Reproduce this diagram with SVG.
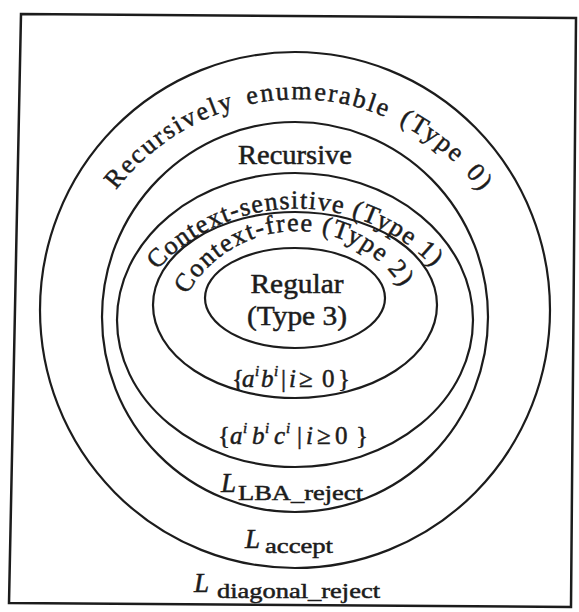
<svg xmlns="http://www.w3.org/2000/svg" width="579" height="612" viewBox="0 0 579 612">
<style>
.ring{fill:none;stroke:#1c1c1c;stroke-width:2.2}
text{stroke:#1c1c1c;stroke-width:0.5;fill:#1c1c1c}
.lbl{font-family:"Liberation Serif","Times New Roman",serif;font-size:27px}
.arc{font-family:"Liberation Serif","Times New Roman",serif;font-size:26px}
.math{font-family:"Liberation Serif","Times New Roman",serif;font-size:25px}
.it{font-style:italic}
.sup{font-size:15px}
.sub{font-size:22px}
</style>
<defs>
<path id="arcRE" d="M 116,190 A 235 248 0 0 1 484,196"/>
<path id="arcCS" d="M 157,270 A 188.5 188.5 0 0 1 440,275"/>
<path id="arcCF" d="M 187,295 A 126 126 0 0 1 410,302"/>
</defs>
<rect width="579" height="612" fill="#ffffff"/>
<polygon id="frame" points="21,14 576,18 571,607 9,603" fill="none" stroke="#1c1c1c" stroke-width="2.5"/>
<g id="connectors"/>
<g id="re">
<ellipse class="ring" cx="295" cy="310" rx="255" ry="258"/>
<text class="arc" letter-spacing="2.1" word-spacing="4"><textPath href="#arcRE">Recursively enumerable (Type 0)</textPath></text>
</g>
<g id="recursive">
<ellipse class="ring" cx="295" cy="317" rx="193" ry="195"/>
<text class="lbl" x="295" y="164" text-anchor="middle" textLength="114" lengthAdjust="spacingAndGlyphs">Recursive</text>
</g>
<g id="cs">
<ellipse class="ring" cx="295" cy="320" rx="178" ry="147"/>
<text class="arc" letter-spacing="1.3"><textPath href="#arcCS">Context-sensitive (Type 1)</textPath></text>
</g>
<g id="cf">
<ellipse class="ring" cx="295" cy="305" rx="142" ry="93"/>
<text class="arc" letter-spacing="1.5"><textPath href="#arcCF">Context-free (Type 2)</textPath></text>
</g>
<g id="regular">
<ellipse class="ring" cx="295" cy="298" rx="90" ry="50"/>
<text class="lbl" x="297" y="293" text-anchor="middle" textLength="93" lengthAdjust="spacingAndGlyphs">Regular</text>
<text class="lbl" x="297" y="325" text-anchor="middle" textLength="100" lengthAdjust="spacingAndGlyphs">(Type 3)</text>
</g>
<g id="anbn">
<text class="math" y="387"><tspan x="232">{</tspan><tspan class="it" x="242">a</tspan><tspan class="sup it" x="255" y="376">i</tspan><tspan class="it" x="261" y="387">b</tspan><tspan class="sup it" x="274" y="376">i</tspan><tspan x="281" y="387">|</tspan><tspan class="it" x="289">i</tspan><tspan x="299">≥</tspan><tspan x="322">0</tspan><tspan x="338">}</tspan></text>
</g>
<g id="anbncn">
<text class="math" y="444"><tspan x="218">{</tspan><tspan class="it" x="230">a</tspan><tspan class="sup it" x="243" y="433">i</tspan><tspan class="it" x="252" y="444">b</tspan><tspan class="sup it" x="265" y="433">i</tspan><tspan class="it" x="274" y="444">c</tspan><tspan class="sup it" x="286" y="433">i</tspan><tspan x="297" y="444">|</tspan><tspan class="it" x="306">i</tspan><tspan x="317">≥</tspan><tspan x="335">0</tspan><tspan x="356">}</tspan></text>
</g>
<g id="lba">
<text class="lbl" y="492"><tspan class="it" x="221">L</tspan><tspan class="sub" x="238" y="500" textLength="125" lengthAdjust="spacingAndGlyphs">LBA_reject</tspan></text>
</g>
<g id="accept">
<text class="lbl" y="548"><tspan class="it" x="245">L</tspan><tspan class="sub" x="265" y="553" textLength="68" lengthAdjust="spacingAndGlyphs">accept</tspan></text>
</g>
<g id="diagonal">
<text class="lbl" y="592"><tspan class="it" x="194">L</tspan><tspan class="sub" x="217" y="598" textLength="163" lengthAdjust="spacingAndGlyphs">diagonal_reject</tspan></text>
</g>
</svg>
